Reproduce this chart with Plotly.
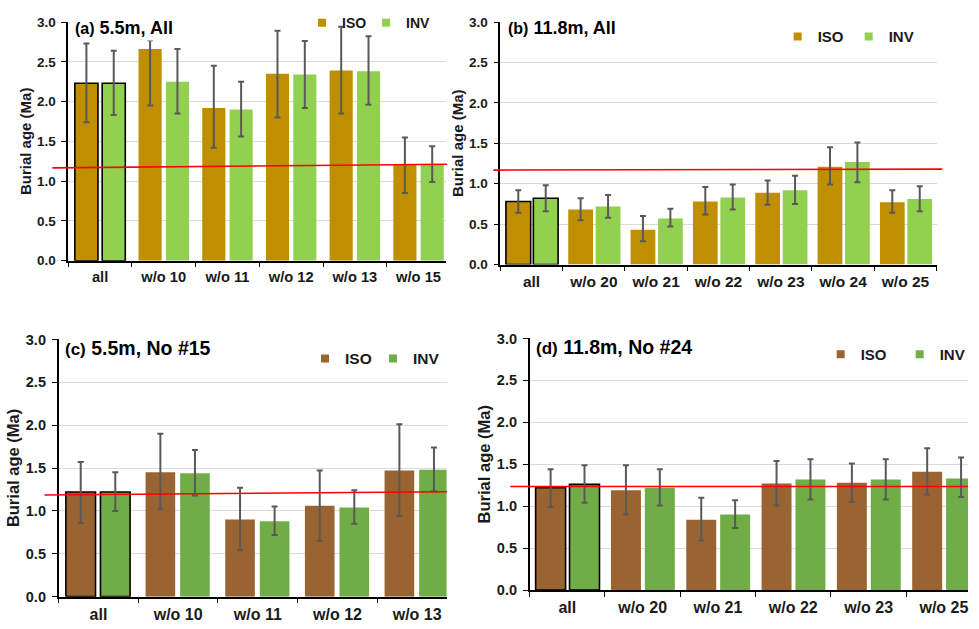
import plotly.graph_objects as go

W, H = 979, 629

# ---------------- data ----------------
# (a) 5.5 m, all samples
cats_a = ["all", "w/o 10", "w/o 11", "w/o 12", "w/o 13", "w/o 15"]
iso_a = [2.23, 2.66, 1.92, 2.35, 2.39, 1.21]
iso_a_hi = [2.73, 2.77, 2.45, 2.89, 2.94, 1.55]
iso_a_lo = [1.74, 1.95, 1.42, 1.80, 1.85, 0.85]
inv_a = [2.23, 2.25, 1.90, 2.34, 2.38, 1.21]
inv_a_hi = [2.64, 2.66, 2.25, 2.76, 2.82, 1.44]
inv_a_lo = [1.83, 1.85, 1.56, 1.92, 1.96, 0.99]

# (b) 11.8 m, all samples
cats_b = ["all", "w/o 20", "w/o 21", "w/o 22", "w/o 23", "w/o 24", "w/o 25"]
iso_b = [0.78, 0.68, 0.43, 0.78, 0.89, 1.21, 0.77]
iso_b_hi = [0.92, 0.82, 0.60, 0.96, 1.04, 1.45, 0.92]
iso_b_lo = [0.64, 0.55, 0.29, 0.62, 0.74, 0.99, 0.64]
inv_b = [0.82, 0.72, 0.57, 0.83, 0.92, 1.27, 0.81]
inv_b_hi = [0.98, 0.86, 0.69, 0.99, 1.10, 1.51, 0.97]
inv_b_lo = [0.66, 0.58, 0.47, 0.68, 0.75, 1.02, 0.66]

# (c) 5.5 m, sample #15 excluded
cats_c = ["all", "w/o 10", "w/o 11", "w/o 12", "w/o 13"]
iso_c = [1.22, 1.45, 0.90, 1.06, 1.47]
iso_c_hi = [1.57, 1.90, 1.27, 1.47, 2.01]
iso_c_lo = [0.86, 1.02, 0.54, 0.65, 0.94]
inv_c = [1.22, 1.44, 0.88, 1.04, 1.48]
inv_c_hi = [1.45, 1.71, 1.05, 1.24, 1.74]
inv_c_lo = [1.00, 1.18, 0.72, 0.85, 1.23]

# (d) 11.8 m, sample #24 excluded
cats_d = ["all", "w/o 20", "w/o 21", "w/o 22", "w/o 23", "w/o 25"]
iso_d = [1.22, 1.19, 0.84, 1.27, 1.28, 1.41]
iso_d_hi = [1.44, 1.49, 1.10, 1.54, 1.51, 1.69]
iso_d_lo = [0.99, 0.90, 0.59, 1.01, 1.05, 1.14]
inv_d = [1.26, 1.22, 0.90, 1.32, 1.32, 1.33]
inv_d_hi = [1.49, 1.44, 1.07, 1.56, 1.56, 1.58]
inv_d_lo = [1.04, 1.01, 0.74, 1.08, 1.08, 1.11]

# reference burial age line (start, end) per panel, Ma
ref_a = (1.167, 1.212)
ref_b = (1.169, 1.181)
ref_c = (1.186, 1.223)
ref_d = (1.235, 1.235)

titles = ["(a)", "(b)", "(c)", "(d)"]
subtitles = ["5.5m, All", "11.8m, All", "5.5m, No #15", "11.8m, No #24"]

# ---------------- styling ----------------
FONT = "Liberation Sans, Arial, sans-serif"
TXT = "#1a1a1a"
ERR = "#595959"
GRID = "#d9d9d9"
col_top = ("#bf8f00", "#92d050")      # ISO, INV in (a), (b)
col_bot = ("#9a6432", "#70ad47")      # ISO, INV in (c), (d)


def px_x(p):
    return p / W


def px_y(p):
    return 1 - p / H


panels = [
    dict(cats=cats_a, iso=(iso_a, iso_a_hi, iso_a_lo), inv=(inv_a, inv_a_hi, inv_a_lo),
         ref=ref_a, cols=col_top, box=(69, 451, 14.3, 259.3), xmax=5.43,
         bars=(-0.396, 0.033, 0.363), ref_px=(53, 452),
         fs=dict(tick=13.5, xtick=14.7, ytitle=15, title=18, tag=16, leg=14),
         title_px=(75, 20.5),
         leg=dict(x=305.5, y=15.5, ew=19)),
    dict(cats=cats_b, iso=(iso_b, iso_b_hi, iso_b_lo), inv=(inv_b, inv_b_hi, inv_b_lo),
         ref=ref_b, cols=col_top, box=(506, 947.3, 14.3, 263.3), xmax=6.5,
         bars=(-0.41, 0.03, 0.397), ref_px=(499, 953),
         fs=dict(tick=13.5, xtick=15.5, ytitle=15, title=18, tag=16, leg=15),
         title_px=(513, 21),
         leg=dict(x=786.5, y=29.5, ew=26)),
    dict(cats=cats_c, iso=(iso_c, iso_c_hi, iso_c_lo), inv=(inv_c, inv_c_hi, inv_c_lo),
         ref=ref_c, cols=col_bot, box=(59.3, 451.7, 340, 604), xmax=4.37,
         bars=(-0.409, 0.025, 0.372), ref_px=(45, 452),
         fs=dict(tick=14.5, xtick=16, ytitle=16.5, title=19.5, tag=17, leg=15.5),
         title_px=(65, 349),
         leg=dict(x=308.5, y=360, ew=23)),
    dict(cats=cats_d, iso=(iso_d, iso_d_hi, iso_d_lo), inv=(inv_d, inv_d_hi, inv_d_lo),
         ref=ref_d, cols=col_bot, box=(535.7, 979, 339, 597.3), xmax=5.32,
         bars=(-0.421, 0.029, 0.398), ref_px=(516, 979),
         fs=dict(tick=14.5, xtick=16, ytitle=16.5, title=19.5, tag=17, leg=15),
         title_px=(541, 348),
         leg=dict(x=830, y=355.5, ew=34)),
]

fig = go.Figure()
layout = dict(
    width=W, height=H, margin=dict(l=0, r=0, t=0, b=0),
    paper_bgcolor="white", plot_bgcolor="white",
    barmode="overlay", font=dict(family=FONT, color=TXT),
    shapes=[], annotations=[],
)

for i, p in enumerate(panels):
    n = "" if i == 0 else str(i + 1)
    xa, ya = "x" + n, "y" + n
    leg = "legend" + n
    x0, x1, yt, yb = p["box"]
    fs = p["fs"]
    iso_off, inv_off, bw = p["bars"]
    outline = [1.6 if c == "all" else 0 for c in p["cats"]]

    for name, (vals, hi, lo), col, off in (
        ("ISO", p["iso"], p["cols"][0], iso_off),
        ("INV", p["inv"], p["cols"][1], inv_off),
    ):
        fig.add_trace(go.Bar(
            x=p["cats"], y=vals, name=name, xaxis=xa, yaxis=ya,
            offset=off, width=bw, showlegend=False,
            marker=dict(color=col, line=dict(color="black", width=outline)),
            error_y=dict(type="data", symmetric=False,
                         array=[h - v for h, v in zip(hi, vals)],
                         arrayminus=[v - l for v, l in zip(vals, lo)],
                         color=ERR, thickness=2, width=3),
        ))
        # legend swatch
        fig.add_trace(go.Scatter(
            x=[None], y=[None], mode="markers", name=name, xaxis=xa, yaxis=ya,
            legend=leg, showlegend=True,
            marker=dict(symbol="square", size=8, color=col),
        ))

    layout["xaxis" + n] = dict(
        domain=[px_x(x0), px_x(x1)], anchor=ya, type="category",
        range=[-0.5, p["xmax"]], showgrid=False, zeroline=False,
        showline=True, linecolor="black", linewidth=1.5,
        ticks="outside", tickson="boundaries", ticklen=5, tickcolor="black",
        tickwidth=1.2, ticklabelstandoff=2,
        tickfont=dict(family=FONT, size=fs["xtick"], color=TXT, weight="bold"),
        fixedrange=True,
    )
    layout["yaxis" + n] = dict(
        domain=[px_y(yb), px_y(yt)], anchor=xa, range=[0, 3.001],
        dtick=0.5, tick0=0, tickformat=".1f",
        showgrid=True, gridcolor=GRID, gridwidth=1, zeroline=False,
        showline=True, linecolor="black", linewidth=1.5,
        ticks="outside", ticklen=5, tickcolor="black", tickwidth=1.2,
        ticklabelstandoff=3,
        tickfont=dict(family=FONT, size=fs["tick"], color=TXT, weight="bold"),
        title=dict(text="Burial age (Ma)", standoff=2,
                   font=dict(family=FONT, size=fs["ytitle"], color=TXT, weight="bold")),
        fixedrange=True,
    )
    layout[leg] = dict(
        orientation="h", x=px_x(p["leg"]["x"]), y=px_y(p["leg"]["y"]),
        xanchor="left", yanchor="middle", bgcolor="rgba(0,0,0,0)",
        entrywidth=p["leg"]["ew"], itemwidth=30, tracegroupgap=0,
        font=dict(family=FONT, size=fs["leg"], color=TXT, weight="bold"),
    )

    # panel label on a white box
    tx, ty = p["title_px"]
    layout["annotations"].append(dict(
        xref="paper", yref="paper", x=px_x(tx - 2), y=px_y(ty),
        xanchor="left", yanchor="middle", showarrow=False,
        text=f"<span style='font-size:{fs['tag']}px'>{titles[i]}</span> {subtitles[i]}",
        font=dict(family=FONT, size=fs["title"], color="black", weight="bold"),
        bgcolor="white", borderpad=2,
    ))

    # reference age line
    r0, r1 = p["ref"]
    rx0, rx1 = p["ref_px"]
    layout["shapes"].append(dict(
        type="line", xref="paper", yref=ya, x0=px_x(rx0), x1=px_x(rx1),
        y0=r0, y1=r1, line=dict(color="#ff0000", width=1.6), layer="above",
    ))

fig.update_layout(**layout)
fig.write_html("out.html")
